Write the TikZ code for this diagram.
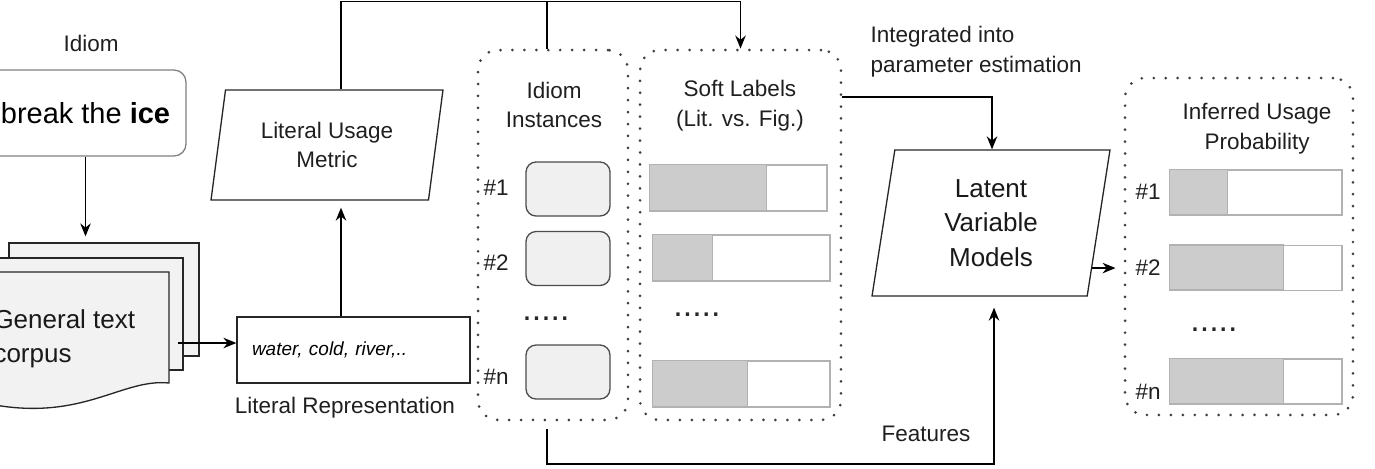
\documentclass[tikz,border=0pt]{standalone}
\usepackage{fontspec}
\setmainfont{Liberation Sans}
\usetikzlibrary{arrows.meta,shapes.geometric}

\begin{document}
\begin{tikzpicture}[>={Stealth[length=2.6mm,width=2.1mm]},x=0.02cm,y=-0.02cm,line width=0.75pt,
	txt/.style={font=\fontsize{12.8}{17}\selectfont,text=black!88,align=center},
	bigtxt/.style={font=\fontsize{14.8}{19.6}\selectfont,text=black!90,align=center},
	group/.style={draw=black!75,line width=1.7pt,dash pattern=on 0pt off 6.8pt,line cap=round,rounded corners=0.4cm},
	para/.style={trapezium,trapezium stretches body,draw=black!85},
	sheet/.style={draw=black!85,fill=black!5},
	slot/.style={draw=black!70,fill=black!6,rounded corners=0.2cm,minimum width=1.68cm,minimum height=1.08cm},
	bar/.style={draw=black!30,fill=white,inner sep=0},
	dots/.style={font=\fontsize{19.3}{20}\selectfont,inner sep=0,text=black!85}]
	\clip (0,0) rectangle (1375,468);
	\node[txt] (idiomlbl) at (91,43) {Idiom};
	\node[draw=black!50,rounded corners=0.24cm,minimum width=4.02cm,minimum height=1.72cm,font=\fontsize{16.5}{20}\selectfont] (idiom) at (85.5,113) {break the \textbf{ice}};
	\node[sheet,minimum width=3.8cm,minimum height=2.26cm] (sheet3) at (104,299.5) {};
	\node[sheet,minimum width=3.86cm,minimum height=2.24cm] (sheet2) at (86.5,314) {};
	\filldraw[sheet] (-20,272) -- (169,272) -- (169,383) .. controls (120,378) and (80,425) .. (-20,402) -- cycle;
	\node[bigtxt,anchor=west,align=left] (corpus) at (-13,339) {General text\\corpus};
	\draw[->,shorten >=0.12cm] (idiom.south) -- (idiom.south |- sheet3.north);
	\node[draw=black!85,text width=4.06cm,inner xsep=0.3cm,minimum height=1.32cm,align=left,font=\fontsize{10.8}{13}\selectfont\itshape] (rep) at (353.5,350) {water, cold, river,..};
	\node[txt] (replbl) at (345,408) {Literal Representation};
	\coordinate (cout) at (178,343);
	\draw[->] (cout) -- (cout -| rep.west);
	\node[para,txt,trapezium left angle=76,trapezium right angle=104,minimum width=4.64cm,minimum height=2.2cm] (metric) at (327,145) {Literal Usage\\Metric};
	\node[group,minimum width=3cm,minimum height=7.4cm] (inst) at (553,235) {};
	\node[group,minimum width=4.02cm,minimum height=7.4cm] (soft) at (740.5,235) {};
	\node[group,minimum width=4.56cm,minimum height=6.74cm] (infer) at (1239,246.5) {};
	\node[txt] (insttitle) at (554,105) {Idiom\\Instances};
	\node[txt] (softtitle) at (740,106) {Soft Labels\\(Lit. vs. Fig.)};
	\node[txt] (infertitle) at (1257,129) {Inferred Usage\\Probability};
	\foreach \i/\y in {1/189,2/258.5,n/372}
		\node[slot] (inst\i) at (568,\y) {};
	\foreach \i/\y in {1/188,2/263,n/377}
		\node[txt,anchor=west,inner sep=0] (instnum\i) at (483,\y) {\#\i};
	\foreach \i/\x/\y/\g in {1/738.5/188/117,2/741.5/258/60,n/741.5/384/95} {
		\node[bar,minimum width=3.54cm,minimum height=0.92cm] (soft\i) at (\x,\y) {};
		\draw[draw=black!30,fill=black!20] (soft\i.north west) rectangle ++(\g,46);
	}
	\foreach \i/\y/\g in {1/192.5/58,2/268/114,n/381.5/114} {
		\node[bar,minimum width=3.44cm,minimum height=0.9cm] (infer\i) at (1256,\y) {};
		\draw[draw=black!30,fill=black!20] (infer\i.north west) rectangle ++(\g,45);
	}
	\foreach \i/\y in {1/192,2/268,n/392}
		\node[txt,anchor=west,inner sep=0] (infernum\i) at (1135,\y) {\#\i};
	\node[dots] (instdots) at (546,319) {.....};
	\node[dots] (softdots) at (697,315) {.....};
	\node[dots] (inferdots) at (1214,330) {.....};
	\node[para,bigtxt,trapezium left angle=77,trapezium right angle=103,minimum width=4.76cm,minimum height=2.92cm] (latent) at (991,223) {Latent\\Variable\\Models};
	\coordinate (top) at (341,1.5);
	\coordinate (f1) at (547,464);
	\coordinate (f2) at (994,464);
	\coordinate (est) at (992,97);
	\draw[->,shorten >=0.14cm] (rep.north -| top) -- (metric.south -| top);
	\draw[->] (metric.north -| top) -- (top) -- (top -| soft.north) -- (soft.north);
	\draw (top -| f1) -- (inst.north -| f1);
	\draw[->] (soft.east |- est) -- (est) -- (est |- latent.north);
	\node[txt,anchor=west,align=left] (estlbl) at (864,52) {Integrated into\\parameter estimation};
	\draw[->,shorten >=0.16cm] (latent.-24) -- (latent.-24 -| infer.west);
	\draw[->,shorten <=0.16cm,shorten >=0.22cm] (inst.south -| f1) -- (f1) -- (f2) -- (f2 |- latent.south);
	\node[txt] (featlbl) at (926,434) {Features};
\end{tikzpicture}
\end{document}
